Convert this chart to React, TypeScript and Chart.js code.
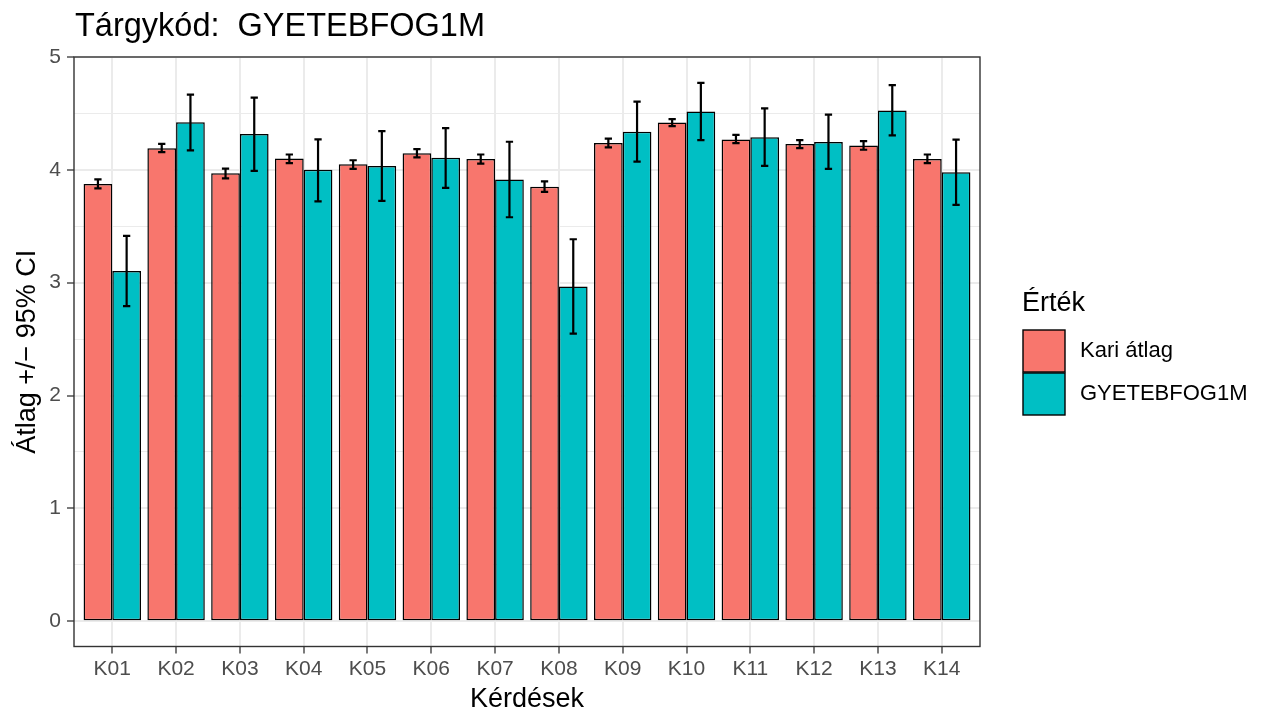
import React, { useEffect, useRef } from 'react';
import { Chart, registerables } from 'chart.js';

Chart.register(...registerables);

const categories = ['K01', 'K02', 'K03', 'K04', 'K05', 'K06', 'K07', 'K08', 'K09', 'K10', 'K11', 'K12', 'K13', 'K14'];
const seriesNames = ['Kari átlag', 'GYETEBFOG1M'];
const seriesColors = ['#F8766D', '#00BFC4'];

const kariMean = [3.875, 4.192, 3.97, 4.1, 4.05, 4.148, 4.097, 3.85, 4.237, 4.42, 4.27, 4.228, 4.216, 4.097];
const kariLow = [3.835, 4.157, 3.925, 4.06, 4.008, 4.11, 4.056, 3.804, 4.2, 4.388, 4.237, 4.192, 4.178, 4.06];
const kariHigh = [3.915, 4.23, 4.01, 4.136, 4.085, 4.183, 4.136, 3.898, 4.276, 4.45, 4.31, 4.263, 4.254, 4.136];

const targyMean = [3.104, 4.421, 4.317, 4.0, 4.035, 4.107, 3.914, 2.967, 4.338, 4.516, 4.288, 4.246, 4.526, 3.979];
const targyLow = [2.793, 4.172, 3.99, 3.72, 3.725, 3.84, 3.58, 2.549, 4.073, 4.263, 4.035, 4.008, 4.305, 3.69];
const targyHigh = [3.415, 4.667, 4.64, 4.27, 4.343, 4.37, 4.249, 3.385, 4.605, 4.77, 4.545, 4.49, 4.75, 4.267];

const yTickValues = [0, 0.5, 1, 1.5, 2, 2.5, 3, 3.5, 4, 4.5, 5];

const titleText = 'Tárgykód:  GYETEBFOG1M';
const xTitle = 'Kérdések';
const yTitle = 'Átlag +/− 95% CI';
const legendTitle = 'Érték';

const FONT = '"Liberation Sans", Arial, Helvetica, sans-serif';

const decorPlugin = {
  id: 'decor',
  afterDatasetsDraw(chart: any) {
    const ctx = chart.ctx;
    const ys = chart.scales.y;
    const xs = chart.scales.x;
    const lows = [kariLow, targyLow];
    const highs = [kariHigh, targyHigh];
    const hw = 0.057 * (xs.getPixelForValue(2) - xs.getPixelForValue(1));
    ctx.save();
    ctx.strokeStyle = '#000';
    ctx.lineWidth = 2.2;
    ctx.lineCap = 'butt';
    for (let d = 0; d < 2; d++) {
      const meta = chart.getDatasetMeta(d);
      meta.data.forEach((bar: any, i: number) => {
        const cx = bar.x;
        const yl = ys.getPixelForValue(lows[d][i]);
        const yh = ys.getPixelForValue(highs[d][i]);
        ctx.beginPath();
        ctx.moveTo(cx, yl);
        ctx.lineTo(cx, yh);
        ctx.moveTo(cx - hw, yl);
        ctx.lineTo(cx + hw, yl);
        ctx.moveTo(cx - hw, yh);
        ctx.lineTo(cx + hw, yh);
        ctx.stroke();
      });
    }
    ctx.restore();
  },
  afterDraw(chart: any) {
    const ctx = chart.ctx;
    const a = chart.chartArea;
    ctx.save();
    // panel border
    ctx.strokeStyle = '#333333';
    ctx.lineWidth = 1.4;
    ctx.strokeRect(a.left, a.top, a.right - a.left, a.bottom - a.top);

    // title
    ctx.fillStyle = '#000';
    ctx.textBaseline = 'alphabetic';
    ctx.textAlign = 'left';
    ctx.font = `32.5px ${FONT}`;
    ctx.fillText(titleText, 75, 36);

    // x title
    ctx.font = `27px ${FONT}`;
    ctx.textAlign = 'center';
    ctx.fillText(xTitle, (a.left + a.right) / 2, 707);

    // y title
    ctx.save();
    ctx.translate(35, (a.top + a.bottom) / 2);
    ctx.rotate(-Math.PI / 2);
    ctx.fillText(yTitle, 0, 0);
    ctx.restore();

    // legend
    ctx.textAlign = 'left';
    ctx.font = `27px ${FONT}`;
    ctx.fillText(legendTitle, 1022, 311);
    seriesNames.forEach((name, k) => {
      const ky = 330 + k * 43;
      ctx.fillStyle = seriesColors[k];
      ctx.fillRect(1023, ky, 42, 42);
      ctx.strokeStyle = '#000';
      ctx.lineWidth = 1.4;
      ctx.strokeRect(1023, ky, 42, 42);
      ctx.fillStyle = '#000';
      ctx.font = `22px ${FONT}`;
      ctx.textBaseline = 'middle';
      ctx.fillText(name, 1080, ky + 21);
      ctx.textBaseline = 'alphabetic';
    });
    ctx.restore();
  },
};

export default function App() {
  const canvasRef = useRef<HTMLCanvasElement | null>(null);

  useEffect(() => {
    document.body.style.margin = '0';
    document.body.style.overflow = 'hidden';
    const canvas = canvasRef.current;
    if (!canvas) return;

    const meanSets = [kariMean, targyMean];
    const chart = new Chart(canvas, {
      type: 'bar',
      data: {
        datasets: seriesNames.map((name, d) => ({
          label: name,
          data: categories.map((_, i) => ({ x: i + 1, y: meanSets[d][i] })),
          backgroundColor: seriesColors[d],
          borderColor: '#000000',
          borderWidth: 1.5,
          borderSkipped: false,
          categoryPercentage: 0.9,
          barPercentage: 1.0,
        })),
      },
      options: {
        animation: false,
        responsive: true,
        maintainAspectRatio: false,
        layout: { padding: { top: 57, right: 284, left: 0, bottom: 0 } },
        plugins: {
          legend: { display: false },
          title: { display: false },
          tooltip: { enabled: false },
        },
        scales: {
          x: {
            type: 'linear',
            min: 0.4,
            max: 14.6,
            offset: false,
            afterBuildTicks: (s: any) => {
              s.ticks = categories.map((_, i) => ({ value: i + 1 }));
            },
            afterFit: (s: any) => {
              s.height = 66.5;
            },
            grid: {
              offset: false,
              color: '#EBEBEB',
              lineWidth: 2,
              tickColor: '#333333',
              tickLength: 7,
              tickWidth: 1.3,
            },
            border: { display: false },
            ticks: {
              autoSkip: false,
              maxRotation: 0,
              minRotation: 0,
              padding: 3,
              color: '#4D4D4D',
              font: { family: FONT, size: 21 },
              callback: (v: any) => categories[Math.round(Number(v)) - 1] ?? '',
            },
          },
          y: {
            type: 'linear',
            min: -0.224,
            max: 5.0,
            afterBuildTicks: (s: any) => {
              s.ticks = yTickValues.map((v) => ({ value: v }));
            },
            afterFit: (s: any) => {
              s.width = 74;
            },
            grid: {
              color: '#EBEBEB',
              lineWidth: (c: any) => (Number.isInteger(c.tick?.value) ? 2 : 1),
              tickColor: (c: any) => (Number.isInteger(c.tick?.value) ? '#333333' : 'rgba(0,0,0,0)'),
              tickLength: 7,
              tickWidth: 1.3,
            },
            border: { display: false },
            ticks: {
              padding: 6,
              color: '#4D4D4D',
              font: { family: FONT, size: 21 },
              callback: (v: any) => (Number.isInteger(Number(v)) ? String(v) : ''),
            },
          },
        },
      } as any,
      plugins: [decorPlugin],
    });

    return () => {
      chart.destroy();
    };
  }, []);

  return (
    <div style={{ position: 'relative', width: 1264, height: 713 }}>
      <canvas ref={canvasRef} style={{ display: 'block' }} />
    </div>
  );
}
